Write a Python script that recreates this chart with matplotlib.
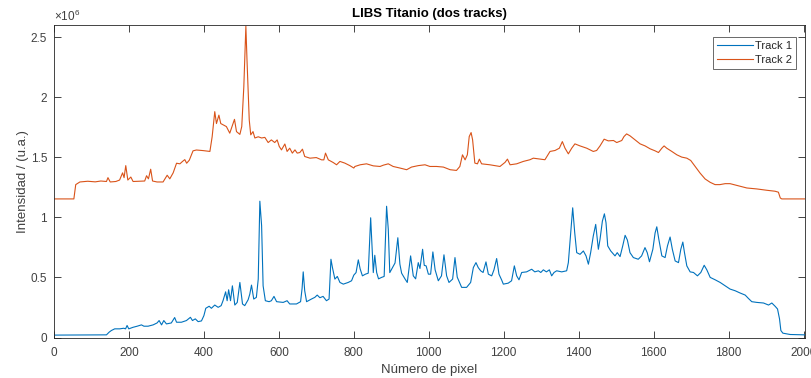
import matplotlib
matplotlib.use("Agg")
import matplotlib.pyplot as plt
import numpy as np

plt.rcParams['font.family'] = ['Liberation Sans', 'DejaVu Sans']
plt.rcParams['mathtext.fontset'] = 'custom'
plt.rcParams['mathtext.rm'] = 'Liberation Sans'
plt.rcParams['mathtext.it'] = 'Liberation Sans:italic'

# ---- data (intensity in units of 1e6) ----
track2_x = [1, 53, 58, 69, 90, 110, 125, 140, 144, 150, 165, 175, 183, 187, 191.5, 197, 205, 211, 225, 242,
            247, 252, 258, 263, 275, 291, 302, 309, 318, 327, 336, 343, 349, 354, 361, 371, 380, 398, 416, 422,
            429, 433.5, 440, 445, 451, 460, 469, 481.6, 487, 496, 501, 506.5, 512, 515, 521, 525, 531, 536, 545, 554,
            562.6, 571.5, 580, 589, 595.5, 601, 607, 616, 622, 629, 636, 643, 649, 656, 663, 669, 683, 700, 714, 720,
            724.5, 732, 745, 754, 763, 776, 789.5, 800, 803, 817, 834, 852, 870, 879, 892, 905, 923, 941, 954, 972,
            990, 1003, 1021, 1039, 1057, 1074, 1083, 1090, 1097, 1103, 1108, 1113, 1117, 1123, 1130, 1135, 1141, 1163, 1190, 1203.5,
            1210, 1217, 1234.6, 1252.4, 1270, 1279, 1297, 1310, 1323.6, 1337, 1348.5, 1356.5, 1363.6, 1372.5, 1381.5, 1390, 1403.7, 1421.5, 1439, 1448,
            1457, 1468, 1479, 1493, 1501.6, 1515, 1521, 1528, 1537, 1550.5, 1564, 1577.3, 1590.6, 1604, 1613, 1622, 1628, 1635, 1648.6, 1662,
            1675, 1688.6, 1699, 1711, 1724, 1737.5, 1751, 1764, 1777, 1791, 1804, 1817.6, 1831, 1848.8, 1875.5, 1902, 1924, 1933, 1938, 1942,
            2003]
track2_y = [1.153, 1.153, 1.272, 1.294, 1.300, 1.295, 1.302, 1.298, 1.330, 1.294, 1.298, 1.310, 1.370, 1.330, 1.430, 1.310, 1.335, 1.298, 1.300, 1.302,
            1.346, 1.320, 1.400, 1.302, 1.294, 1.294, 1.350, 1.320, 1.370, 1.450, 1.445, 1.465, 1.480, 1.450, 1.475, 1.553, 1.560, 1.555, 1.548, 1.670,
            1.879, 1.780, 1.850, 1.780, 1.770, 1.755, 1.700, 1.815, 1.713, 1.690, 1.755, 2.085, 2.590, 2.310, 1.810, 1.686, 1.713, 1.660, 1.670, 1.660,
            1.665, 1.622, 1.644, 1.622, 1.644, 1.590, 1.561, 1.610, 1.548, 1.575, 1.534, 1.561, 1.534, 1.539, 1.567, 1.506, 1.492, 1.497, 1.478, 1.478,
            1.534, 1.478, 1.456, 1.437, 1.465, 1.451, 1.430, 1.410, 1.423, 1.437, 1.445, 1.428, 1.423, 1.434, 1.445, 1.423, 1.410, 1.396, 1.418, 1.430,
            1.437, 1.423, 1.423, 1.418, 1.396, 1.390, 1.423, 1.520, 1.478, 1.520, 1.672, 1.705, 1.645, 1.451, 1.445, 1.484, 1.445, 1.437, 1.423, 1.457,
            1.484, 1.437, 1.445, 1.465, 1.479, 1.492, 1.484, 1.479, 1.548, 1.556, 1.575, 1.630, 1.575, 1.528, 1.575, 1.611, 1.594, 1.575, 1.548, 1.556,
            1.594, 1.650, 1.636, 1.639, 1.622, 1.639, 1.672, 1.694, 1.678, 1.644, 1.611, 1.594, 1.570, 1.553, 1.539, 1.575, 1.594, 1.575, 1.548, 1.520,
            1.501, 1.492, 1.473, 1.423, 1.368, 1.319, 1.291, 1.272, 1.272, 1.280, 1.280, 1.269, 1.258, 1.244, 1.236, 1.225, 1.217, 1.209, 1.161, 1.153,
            1.153]

track1_x = [1, 140, 147, 153, 162, 175.5, 186, 191, 195, 199.5, 211, 222, 233.3, 240, 251, 264.5, 275, 280.5, 287, 293,
            300, 313, 322, 327, 340, 353.4, 364, 369.5, 377, 384.6, 393.5, 400, 405, 414, 420, 429, 438, 446, 451, 458,
            462, 466, 471, 476, 482.5, 489, 496, 503, 509, 518, 522.5, 527, 533, 540, 545, 549.3, 554, 558, 564, 574,
            580, 587, 594, 611.6, 622, 629, 647, 658, 662, 665, 669, 674, 687, 696, 702.4, 709.5, 718, 727, 734, 739,
            743, 749.5, 756, 763, 772, 785, 794, 800, 806, 812, 817, 823, 831, 838.5, 845, 849, 852, 856, 861, 866,
            874, 881, 887.5, 892, 896, 903, 910, 917.5, 923, 927.6, 936.5, 942.7, 951.6, 958.7, 965, 972, 976.5, 983.6, 988, 993,
            999, 1005, 1011, 1017, 1025.5, 1034, 1040.6, 1047.7, 1054, 1063.7, 1070, 1076, 1087.8, 1101, 1111.8, 1119, 1126, 1132, 1138.5, 1145,
            1152.7, 1159, 1168, 1174, 1181.2, 1187.4, 1194.6, 1199, 1212, 1221, 1228.4, 1234.6, 1240.8, 1248, 1261, 1274.7, 1283, 1292.5, 1299, 1305.8,
            1314, 1321.8, 1328, 1334.3, 1341.4, 1354.8, 1368, 1372.5, 1378.8, 1384.1, 1389.5, 1394.8, 1403.7, 1412.6, 1419.7, 1426, 1432, 1439, 1445.5, 1452.6,
            1457, 1463.3, 1468.7, 1473, 1477.6, 1485.6, 1497, 1503, 1510.5, 1517.6, 1524, 1530, 1537, 1546, 1559, 1568, 1577, 1583, 1589, 1598,
            1604, 1608.5, 1614, 1622, 1630.7, 1637, 1644, 1650, 1657.5, 1666.4, 1672.6, 1678, 1682.4, 1688.6, 1697.5, 1706.4, 1717, 1726, 1735, 1742,
            1751, 1764.3, 1777.6, 1791, 1804, 1817.6, 1831, 1844.4, 1853, 1862, 1875.5, 1893.3, 1906.7, 1915.5, 1924.5, 1930.7, 1936, 1939.6, 1945, 1964.5,
            2003]
track1_y = [0.020, 0.022, 0.044, 0.058, 0.072, 0.072, 0.077, 0.072, 0.100, 0.072, 0.085, 0.094, 0.105, 0.094, 0.094, 0.105, 0.121, 0.141, 0.105, 0.141,
            0.113, 0.121, 0.166, 0.127, 0.127, 0.141, 0.168, 0.141, 0.155, 0.132, 0.138, 0.182, 0.243, 0.260, 0.243, 0.270, 0.251, 0.265, 0.306, 0.380,
            0.306, 0.397, 0.306, 0.430, 0.270, 0.292, 0.458, 0.279, 0.265, 0.314, 0.361, 0.436, 0.320, 0.334, 0.486, 1.134, 0.930, 0.430, 0.306, 0.298,
            0.306, 0.342, 0.298, 0.292, 0.306, 0.279, 0.279, 0.298, 0.408, 0.546, 0.389, 0.298, 0.320, 0.334, 0.353, 0.331, 0.342, 0.306, 0.320, 0.651,
            0.582, 0.486, 0.508, 0.458, 0.444, 0.458, 0.472, 0.519, 0.540, 0.646, 0.570, 0.513, 0.527, 0.535, 0.996, 0.730, 0.540, 0.684, 0.540, 0.488,
            0.500, 0.508, 1.092, 0.900, 0.540, 0.580, 0.620, 0.830, 0.610, 0.535, 0.488, 0.458, 0.679, 0.513, 0.488, 0.623, 0.574, 0.734, 0.600, 0.596,
            0.527, 0.527, 0.712, 0.563, 0.472, 0.513, 0.688, 0.513, 0.458, 0.486, 0.665, 0.502, 0.417, 0.417, 0.458, 0.582, 0.623, 0.582, 0.555, 0.541,
            0.629, 0.527, 0.513, 0.563, 0.657, 0.527, 0.478, 0.444, 0.452, 0.472, 0.596, 0.513, 0.480, 0.541, 0.546, 0.568, 0.546, 0.555, 0.541, 0.563,
            0.546, 0.563, 0.513, 0.541, 0.555, 0.546, 0.555, 0.623, 0.872, 1.079, 0.872, 0.706, 0.692, 0.720, 0.679, 0.610, 0.706, 0.844, 0.941, 0.734,
            0.816, 0.968, 1.029, 0.955, 0.762, 0.720, 0.679, 0.706, 0.673, 0.762, 0.850, 0.811, 0.706, 0.665, 0.651, 0.679, 0.748, 0.706, 0.630, 0.734,
            0.870, 0.921, 0.816, 0.679, 0.665, 0.762, 0.836, 0.734, 0.637, 0.623, 0.734, 0.794, 0.706, 0.596, 0.546, 0.541, 0.513, 0.541, 0.601, 0.563,
            0.500, 0.480, 0.458, 0.430, 0.403, 0.389, 0.370, 0.353, 0.325, 0.298, 0.292, 0.287, 0.270, 0.287, 0.259, 0.237, 0.155, 0.058, 0.036, 0.025,
            0.022]

series_labels = ["Track 1", "Track 2"]
y_ticks = [0, 0.5, 1, 1.5, 2, 2.5]
y_tick_labels = ["0", "0.5", "1", "1.5", "2", "2.5"]
x_ticks = [0, 200, 400, 600, 800, 1000, 1200, 1400, 1600, 1800, 2000]

SCALE = 1e6
AX_COLOR = '#262626'
TXT_COLOR = '#404040'

fig = plt.figure(figsize=(8.11, 3.78), dpi=100)
ax = fig.add_axes([54 / 811, (378 - 337.5) / 378, 751 / 811, 312.5 / 378])

ax.plot(track1_x, np.array(track1_y) * SCALE, color='#0072BD', lw=0.8, label=series_labels[0])
ax.plot(track2_x, np.array(track2_y) * SCALE, color='#D95319', lw=0.8, label=series_labels[1])

ax.set_xlim(0, 2004)
ax.set_ylim(0, 2.6 * SCALE)
ax.set_xticks(x_ticks)
ax.set_yticks([v * SCALE for v in y_ticks])
ax.set_yticklabels(y_tick_labels)

ax.tick_params(direction='in', length=5, width=0.6, top=True, right=True,
               labelsize=8.5, color=AX_COLOR, labelcolor=TXT_COLOR)
ax.tick_params(axis='x', pad=7)
ax.tick_params(axis='y', pad=5)
for s in ax.spines.values():
    s.set_color(AX_COLOR)
    s.set_linewidth(0.6)

ax.text(0.0, 1.004, r'$\times10^{6}$', transform=ax.transAxes, ha='left', va='bottom',
        fontsize=8.5, color=TXT_COLOR)

ax.set_title('LIBS Titanio (dos tracks)', fontsize=9.5, fontweight='bold', color='black', pad=6)
ax.set_xlabel('Número de pixel', fontsize=9.5, color=TXT_COLOR, labelpad=3.5)
ax.set_ylabel('Intensidad / (u.a.)', fontsize=9.5, color=TXT_COLOR, labelpad=1)

leg = ax.legend(loc='upper right', bbox_to_anchor=(796 / 811, 1 - 37.3 / 378),
                bbox_transform=fig.transFigure, borderaxespad=0,
                fontsize=8, frameon=True, fancybox=False,
                handlelength=3.3, handletextpad=0.15, borderpad=0.35, labelspacing=0.35)
leg.get_frame().set_edgecolor(AX_COLOR)
leg.get_frame().set_linewidth(0.6)
for t in leg.get_texts():
    t.set_color(AX_COLOR)

fig.savefig('out.png', dpi=100)
